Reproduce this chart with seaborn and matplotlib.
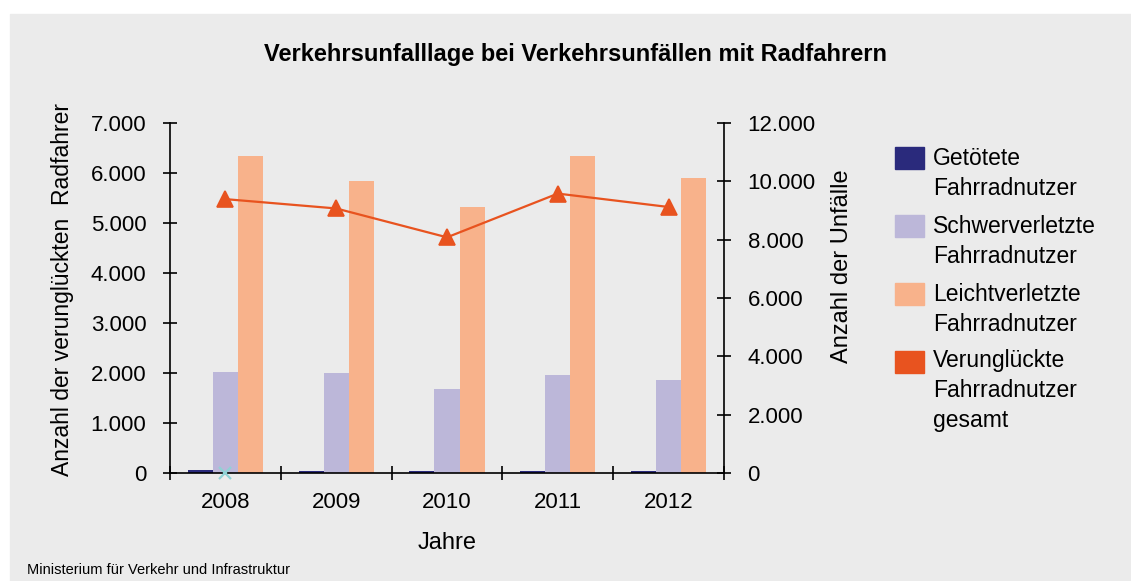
import numpy as np
import pandas as pd
import seaborn as sns
import matplotlib.pyplot as plt
from matplotlib.patches import Rectangle
from matplotlib.ticker import FuncFormatter, MultipleLocator

# values
years = ['2008', '2009', '2010', '2011', '2012']
getoetete = [55, 50, 50, 50, 45]
schwerverletzte = [2020, 2000, 1680, 1960, 1860]
leichtverletzte = [6340, 5840, 5320, 6340, 5900]
verunglueckte_gesamt = [9390, 9070, 8080, 9580, 9120]
# small cyan cross sitting on the baseline at 2008
kreuz = [0, np.nan, np.nan, np.nan, np.nan]

series = ['Getötete\nFahrradnutzer', 'Schwerverletzte\nFahrradnutzer',
          'Leichtverletzte\nFahrradnutzer', 'Verunglückte\nFahrradnutzer\ngesamt']
colors = ['#2a2a7c', '#bcb7d9', '#f8b28b', '#e8531f']

df = pd.DataFrame({
    'Jahr': years * 3,
    'Anzahl': getoetete + schwerverletzte + leichtverletzte,
    'Gruppe': [series[0]] * 5 + [series[1]] * 5 + [series[2]] * 5,
})

plt.rcParams['font.family'] = ['Liberation Sans', 'DejaVu Sans']
W, H = 1131, 581
fig = plt.figure(figsize=(W / 100, H / 100), dpi=100)
fig.patch.set_facecolor('white')
fig.add_artist(Rectangle((10 / W, 0), 1, 1 - 14 / H, transform=fig.transFigure,
                         color='#ebebeb', zorder=-1))

ax = fig.add_axes([170 / W, 1 - 473 / H, 554 / W, 350 / H])
ax.patch.set_alpha(0)

sns.barplot(data=df, x='Jahr', y='Anzahl', hue='Gruppe', palette=colors[:3],
            width=0.68, gap=0, saturation=1, legend=False, ax=ax, zorder=2)
ax.plot(range(5), kreuz, marker='x', color='#90d2d5', markersize=9, mew=1.6,
        linestyle='none', clip_on=False, zorder=4)

ax2 = ax.twinx()
sns.pointplot(x=years, y=verunglueckte_gesamt, ax=ax2, color=colors[3],
              markers='^', linestyles='-', markersize=12, linewidth=1.6)

ax.set_xlim(-0.5, 4.5)
ax2.set_xlim(-0.5, 4.5)
ax.set_ylim(0, 7000)
ax2.set_ylim(0, 12000)
ax.yaxis.set_major_locator(MultipleLocator(1000))
ax2.yaxis.set_major_locator(MultipleLocator(2000))
fmt = FuncFormatter(lambda v, p: f'{int(v):,}'.replace(',', '.'))
ax.yaxis.set_major_formatter(fmt)
ax2.yaxis.set_major_formatter(fmt)

for a in (ax, ax2):
    a.spines['top'].set_visible(False)
    for s in a.spines.values():
        s.set_linewidth(1.2)
ax.spines['right'].set_visible(False)
ax2.spines['left'].set_visible(False)
ax2.spines['bottom'].set_visible(False)

ax.set_xticks(range(5))
ax.set_xticklabels(years)
ax.set_xticks(np.arange(-0.5, 5, 1), minor=True)
ax.tick_params(axis='x', which='major', length=0, pad=14, labelsize=16)
ax.tick_params(axis='x', which='minor', direction='inout', length=10, width=1.2)
ax.tick_params(axis='y', direction='inout', length=10, width=1.2, labelsize=16, pad=12)
ax2.tick_params(axis='y', direction='inout', length=10, width=1.2, labelsize=16, pad=12)
ax2.tick_params(axis='x', length=0, labelbottom=False)

ax.set_xlabel('Jahre', fontsize=17, va='center')
ax.xaxis.set_label_coords(0.5, (473 - 543) / 350)
ax.set_ylabel('Anzahl der verunglückten  Radfahrer', fontsize=16.5, va='center')
ax.yaxis.set_label_coords((63 - 170) / 554, (473 - 289) / 350)
ax2.set_ylabel('Anzahl der Unfälle', fontsize=17, va='center', rotation=90)
ax2.yaxis.set_label_coords((842 - 170) / 554, (473 - 266) / 350)

fig.text(575 / W, 1 - 55 / H, 'Verkehrsunfalllage bei Verkehrsunfällen mit Radfahrern',
         ha='center', va='center', fontsize=17, fontweight='bold')
fig.text(27 / W, 1 - 570 / H, 'Ministerium für Verkehr und Infrastruktur',
         ha='left', va='center', fontsize=10.5)

# legend, drawn by hand to keep the spacing of the original
pitch = 28.3
for i, (lab, col) in enumerate(zip(series, colors)):
    top = 146.7 + 68 * i
    fig.add_artist(Rectangle((895 / W, 1 - (top + 22.3) / H), 29 / W, 22.3 / H,
                             transform=fig.transFigure, color=col))
    last_base = 166.7 + 68 * i + pitch * lab.count('\n')
    fig.text(933 / W, 1 - last_base / H, lab, ha='left', va='baseline',
             fontsize=16.5, linespacing=1.4)

fig.savefig('out.png', dpi=100)
